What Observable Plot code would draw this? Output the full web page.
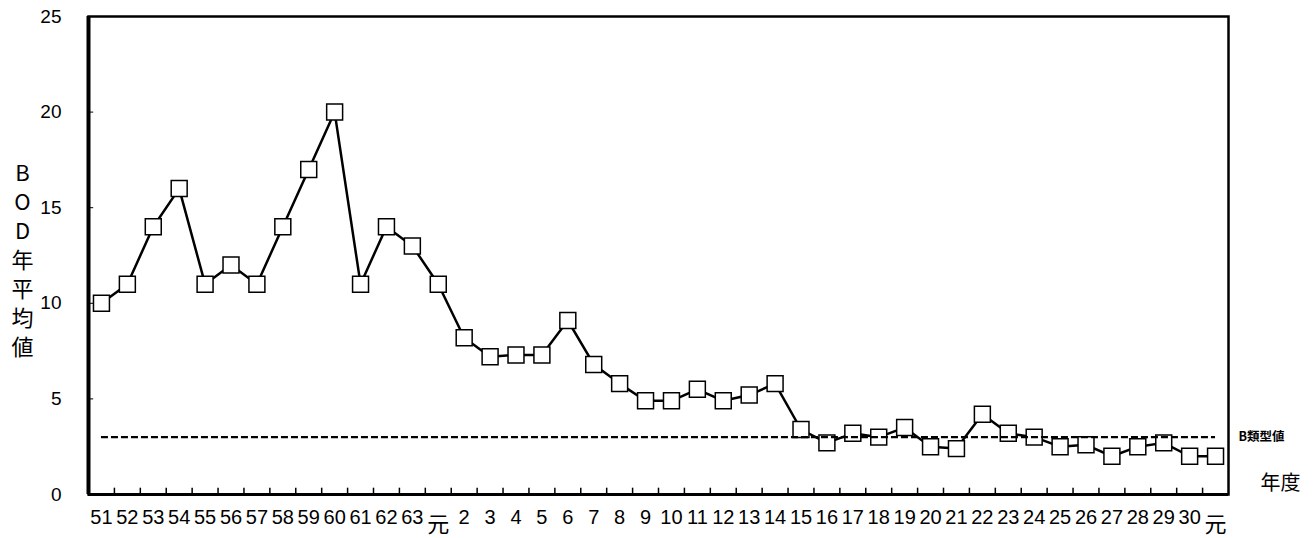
<!DOCTYPE html>
<html>
<head>
<meta charset="utf-8">
<script src="https://cdn.jsdelivr.net/npm/d3@7"></script>
<script src="https://cdn.jsdelivr.net/npm/@observablehq/plot@0.6"></script>
<style>
  html, body { margin: 0; padding: 0; background: white; }
</style>
</head>
<body>
<div id="chart"></div>
<script>
const labels = ["51","52","53","54","55","56","57","58","59","60","61","62","63","元",
  "2","3","4","5","6","7","8","9","10","11","12","13","14","15","16","17","18","19","20",
  "21","22","23","24","25","26","27","28","29","30","元"];
const values = [10, 11, 14, 16, 11, 12, 11, 14, 17, 20, 11, 14, 13, 11,
  8.2, 7.2, 7.3, 7.3, 9.1, 6.8, 5.8, 4.9, 4.9, 5.5, 4.9, 5.2, 5.8, 3.4, 2.7, 3.2, 3.0, 3.5, 2.5,
  2.4, 4.2, 3.2, 3.0, 2.5, 2.6, 2.0, 2.5, 2.7, 2.0, 2.0];
const yTicks = [0, 5, 10, 15, 20, 25];
const standard = 3;
const standardLabel = "B類型値";
const xTitle = "年度";
const yTitle = "BOD年平均値";

const n = labels.length;
const data = values.map((v, i) => ({i, pos: i + 0.5, label: labels[i], v}));
const narrow = "'Liberation Sans Narrow', 'Arial Narrow', 'Liberation Sans', sans-serif";
const cjk = "'Noto Sans CJK JP', sans-serif";

const chart = Plot.plot({
  width: 1315,
  height: 538,
  marginLeft: 88,
  marginRight: 87,
  marginTop: 16,
  marginBottom: 44,
  x: {domain: [0, n], axis: null},
  y: {domain: [0, 25], axis: null},
  style: {fontFamily: "'Liberation Sans', Arial, sans-serif", background: "white", color: "black"},
  marks: [
    Plot.frame({stroke: "black", strokeWidth: 2.5}),
    Plot.ruleX([0], {stroke: "black", strokeWidth: 4}),
    Plot.ruleY([0], {stroke: "black", strokeWidth: 3}),
    Plot.ruleX(d3.range(1, n), {y1: 0, y2: 0.33, stroke: "black", strokeWidth: 1.5}),
    Plot.ruleY(yTicks.slice(1, -1), {x1: 0, x2: 0.2, stroke: "black", strokeWidth: 1}),
    Plot.axisY({ticks: yTicks, label: null, tickSize: 0, tickPadding: 27, fontSize: 19}),
    Plot.axisX({
      ticks: data.filter(d => d.label !== "元").map(d => d.pos),
      tickFormat: d => labels[Math.floor(d)],
      label: null, tickSize: 0, tickPadding: 15, fontSize: 20, fontFamily: narrow
    }),
    Plot.axisX({
      ticks: data.filter(d => d.label === "元").map(d => d.pos),
      tickFormat: d => labels[Math.floor(d)],
      label: null, tickSize: 0, tickPadding: 22, fontSize: 22, fontFamily: cjk
    }),
    Plot.line(data, {x: "pos", y: "v", stroke: "black", strokeWidth: 2.5}),
    Plot.dot(data, {x: "pos", y: "v", symbol: "square", r: 9, fill: "white", stroke: "black", strokeWidth: 1.5}),
    Plot.ruleY([standard], {x1: data[0].pos, x2: data[n - 1].pos, stroke: "black", strokeWidth: 2.2, strokeDasharray: "7,3"}),
    Plot.text([standardLabel], {x: n, y: standard, dx: 10, textAnchor: "start", fontSize: 12.5, fontWeight: "bold", fontFamily: cjk}),
    Plot.text([xTitle], {x: n, y: 0, dx: 32, dy: -11, textAnchor: "start", fontSize: 20, fontFamily: cjk}),
    Plot.text([yTitle.split("").join("\n")], {frameAnchor: "left", textAnchor: "middle", dx: -66, dy: 3, lineHeight: 1.32, fontSize: 22, fontFamily: cjk})
  ]
});
document.getElementById("chart").appendChild(chart);
</script>
</body>
</html>
